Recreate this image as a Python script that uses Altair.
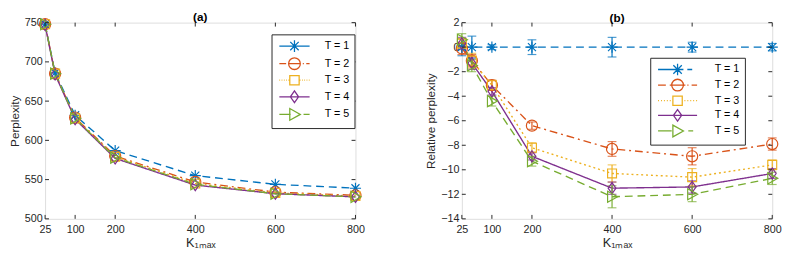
import altair as alt
import pandas as pd

# ---------------- data ----------------
K = [25, 50, 100, 200, 400, 600, 800]
series = ["T = 1", "T = 2", "T = 3", "T = 4", "T = 5"]
colors = ["#0072BD", "#D95319", "#EDB120", "#7E2F8E", "#77AC30"]

# panel (a): perplexity
perp_t1 = [748, 686, 632, 587, 555, 544, 539]
perp_t2 = [748, 685, 629, 580, 547, 534, 530]
perp_t3 = [748, 685, 628, 579, 545, 533, 529]
perp_t4 = [747, 684, 627, 577, 543, 532, 528]
perp_t5 = [748, 685, 628, 578, 544, 532, 528]

# panel (b): relative perplexity and error half-widths
rel_t1 = [0.0, 0.0, 0.0, 0.0, 0.0, 0.0, 0.0]
rel_t2 = [-0.1, -1.1, -3.1, -6.4, -8.3, -8.9, -7.9]
rel_t3 = [0.3, -1.1, -3.1, -8.2, -10.3, -10.6, -9.6]
rel_t4 = [0.3, -1.3, -3.6, -8.9, -11.5, -11.4, -10.3]
rel_t5 = [0.6, -1.5, -4.4, -9.3, -12.2, -12.0, -10.7]
err_t1 = [0.7, 0.9, 0.2, 0.6, 0.8, 0.4, 0.3]
err_t2 = [0.5, 0.5, 0.4, 0.3, 0.6, 0.7, 0.5]
err_t3 = [0.4, 0.6, 0.4, 0.4, 0.7, 0.7, 0.4]
err_t4 = [0.5, 0.5, 0.3, 0.3, 0.5, 0.5, 0.4]
err_t5 = [0.5, 0.5, 0.4, 0.4, 0.9, 0.6, 0.5]

x_ticks = [25, 100, 200, 400, 600, 800]
y_ticks_a = [500, 550, 600, 650, 700, 750]
y_ticks_b = [-14, -12, -10, -8, -6, -4, -2, 0, 2]

# ---------------- tables ----------------
perp_all = [perp_t1, perp_t2, perp_t3, perp_t4, perp_t5]
rel_all = [rel_t1, rel_t2, rel_t3, rel_t4, rel_t5]
err_all = [err_t1, err_t2, err_t3, err_t4, err_t5]

rows_a, rows_b = [], []
for s, vals in zip(series, perp_all):
    for k, v in zip(K, vals):
        rows_a.append({"K": k, "val": v, "T": s})
for s, vals, errs in zip(series, rel_all, err_all):
    for k, v, e in zip(K, vals, errs):
        rows_b.append({"K": k, "val": v, "lo": v - e, "hi": v + e, "T": s})
df_a = pd.DataFrame(rows_a)
df_b = pd.DataFrame(rows_b)

# ---------------- style ----------------
W, H = 318, 201
TXT = "#262626"
FONT = "Liberation Sans"
SYM = 144  # symbol area -> 12 px box, unit = 6 px

def marker(kind, m):
    f = lambda v: f"{v:.3f}"
    if kind == "star":
        d = 0.72 * m
        return (f"M0,{f(-m)}L0,{f(m)}M{f(-m)},0L{f(m)},0"
                f"M{f(-d)},{f(-d)}L{f(d)},{f(d)}M{f(-d)},{f(d)}L{f(d)},{f(-d)}")
    if kind == "circle":
        a = f"{f(m)},{f(m)} 0 0,1"
        return (f"M{f(-m)},0A{a} 0,{f(-m)}A{a} {f(m)},0"
                f"A{a} 0,{f(m)}A{a} {f(-m)},0Z")
    if kind == "square":
        s = 0.8 * m
        return f"M{f(-s)},{f(-s)}L{f(s)},{f(-s)}L{f(s)},{f(s)}L{f(-s)},{f(s)}Z"
    if kind == "diamond":
        return f"M0,{f(-m)}L{f(0.7*m)},0L0,{f(m)}L{f(-0.7*m)},0Z"
    if kind == "tri":
        return f"M{f(-0.8*m)},{f(-m)}L{f(m)},0L{f(-0.8*m)},{f(m)}Z"

kinds = ["star", "circle", "square", "diamond", "tri"]
shape_range = [marker(k, 1.0) for k in kinds]

dots = [(-1 + 0.15 * i, -1 + 0.15 * i + 0.05) for i in range(14)]
patterns_a = [
    [(-1, 1)],
    [(-1, -0.55), (-0.4, 0.4), (0.55, 0.62), (0.78, 1)],
    [d for d in dots if abs(d[0] + 0.025) > 0.35],
    [(-1, 1)],
    [(-1, -0.25), (0.6, 1)],
]
patterns_b = [
    [(-1, -0.3), (0.5, 0.75)],
    [(-1, -0.6), (-0.4, 0.4), (0.5, 0.56), (0.72, 1)],
    [d for d in dots if abs(d[0] + 0.025) > 0.3],
    [(-1, 1)],
    [(-1, -0.3), (0.55, 0.8)],
]

def legend_paths(patterns, half_px):
    half = half_px / 6.0
    out = []
    for k, segs in zip(kinds, patterns):
        p = "".join(f"M{a*half:.3f},0L{b*half:.3f},0" for a, b in segs)
        out.append(p + marker(k, 1.0))
    return out

color_scale = alt.Scale(domain=series, range=colors)
dash_scale = alt.Scale(domain=series, range=[[8, 5], [8, 4, 2, 4], [2, 3], [1, 0], [8, 5]])
shape_scale = alt.Scale(domain=series, range=shape_range)

def panel(df, title, ytitle, ydom, yticks, half_px, patterns, lx, ly, rowpad, gap, with_err):
    xs = alt.Scale(domain=[25, 800], nice=False, zero=False)
    ys = alt.Scale(domain=ydom, nice=False, zero=False)
    xax = alt.Axis(values=x_ticks, tickSize=0, domain=False, grid=False,
                   labelPadding=5, labelFontSize=11, labelColor=TXT, labelFont=FONT,
                   title="K₁ₘₐₓ", titleFontSize=13, titleFontWeight="normal",
                   titleColor=TXT, titlePadding=2, titleFont=FONT, labelFlush=False)
    yax = alt.Axis(values=yticks, tickSize=0, domain=False, grid=False,
                   labelPadding=3, labelFontSize=11, labelColor=TXT, labelFont=FONT,
                   title=ytitle, titleFontSize=12, titleFontWeight="normal",
                   titleColor=TXT, titlePadding=3, titleFont=FONT)
    X = alt.X("K:Q", scale=xs, axis=xax)
    Y = alt.Y("val:Q", scale=ys, axis=yax)
    base = alt.Chart(df)
    col = alt.Color("T:N", scale=color_scale, legend=None)
    lines = base.mark_line(strokeWidth=1.4).encode(
        x=X, y=Y, color=col,
        strokeDash=alt.StrokeDash("T:N", scale=dash_scale, legend=None),
        detail="T:N",
    )
    pts = base.mark_point(filled=False, size=130, strokeWidth=1.2, opacity=1).encode(
        x=X, y=Y, color=col,
        shape=alt.Shape("T:N", scale=shape_scale, legend=None),
    )
    layers = [lines]
    if with_err:
        rules = base.mark_rule(strokeWidth=1.2).encode(
            x=X, y=alt.Y("lo:Q", scale=ys, axis=yax), y2="hi:Q", color=col)
        cap_lo = base.mark_tick(orient="horizontal", size=9, thickness=1.2).encode(
            x=X, y=alt.Y("lo:Q", scale=ys, axis=yax), color=col)
        cap_hi = base.mark_tick(orient="horizontal", size=9, thickness=1.2).encode(
            x=X, y=alt.Y("hi:Q", scale=ys, axis=yax), color=col)
        layers += [rules, cap_lo, cap_hi]
    layers.append(pts)
    # legend-only layer (invisible marks, visible legend)
    leg = alt.Legend(
        title=None, orient="none", legendX=lx, legendY=ly,
        strokeColor=TXT, fillColor="white", padding=5,
        labelFontSize=11, labelColor="black", labelFont=FONT,
        rowPadding=rowpad, labelOffset=2 * half_px - 14 + gap + 3,
        symbolOffset=half_px - 7 + 3, symbolStrokeWidth=1.3,
        symbolSize=SYM, symbolOpacity=1, symbolFillColor="transparent",
    )
    legl = base.mark_point(filled=False, opacity=0).encode(
        x=X, y=Y,
        color=alt.Color("T:N", scale=color_scale, legend=leg),
        shape=alt.Shape("T:N", scale=alt.Scale(domain=series,
                        range=legend_paths(patterns, half_px)), legend=leg),
    )
    layers.append(legl)
    # inward MATLAB-style ticks
    ydf = pd.DataFrame({"val": yticks})
    xdf = pd.DataFrame({"K": x_ticks})
    tl = alt.Chart(ydf).mark_rule(color=TXT, strokeWidth=1).encode(
        y=Y, x=alt.value(0), x2=alt.value(4))
    tr = alt.Chart(ydf).mark_rule(color=TXT, strokeWidth=1).encode(
        y=Y, x=alt.value(W - 4), x2=alt.value(W))
    tb = alt.Chart(xdf).mark_rule(color=TXT, strokeWidth=1).encode(
        x=X, y=alt.value(H - 4), y2=alt.value(H))
    tt = alt.Chart(xdf).mark_rule(color=TXT, strokeWidth=1).encode(
        x=X, y=alt.value(0), y2=alt.value(4))
    layers += [tl, tr, tb, tt]
    return alt.layer(*layers).resolve_scale(
        color="independent", shape="independent"
    ).properties(
        width=W, height=H,
        title=alt.TitleParams(title, fontSize=12, fontWeight="bold", font=FONT,
                              color="black", offset=-8, anchor="middle"),
    )

pa = panel(df_a, "(a)", "Perplexity", [500, 750], y_ticks_a,
           15.5, patterns_a, W - 86, 12, 0, 4, False)
pb = panel(df_b, "(b)", "Relative perplexity", [-14, 2], y_ticks_b,
           20, patterns_b, W - 125, 36, -2, 2, True)

chart = alt.hconcat(pa, pb, spacing=60).resolve_scale(
    color="independent", shape="independent"
).properties(padding=0).configure_view(
    stroke=TXT, strokeWidth=1
).configure(font=FONT)

chart.save("out.html", embed_options={"renderer": "svg", "actions": False})
